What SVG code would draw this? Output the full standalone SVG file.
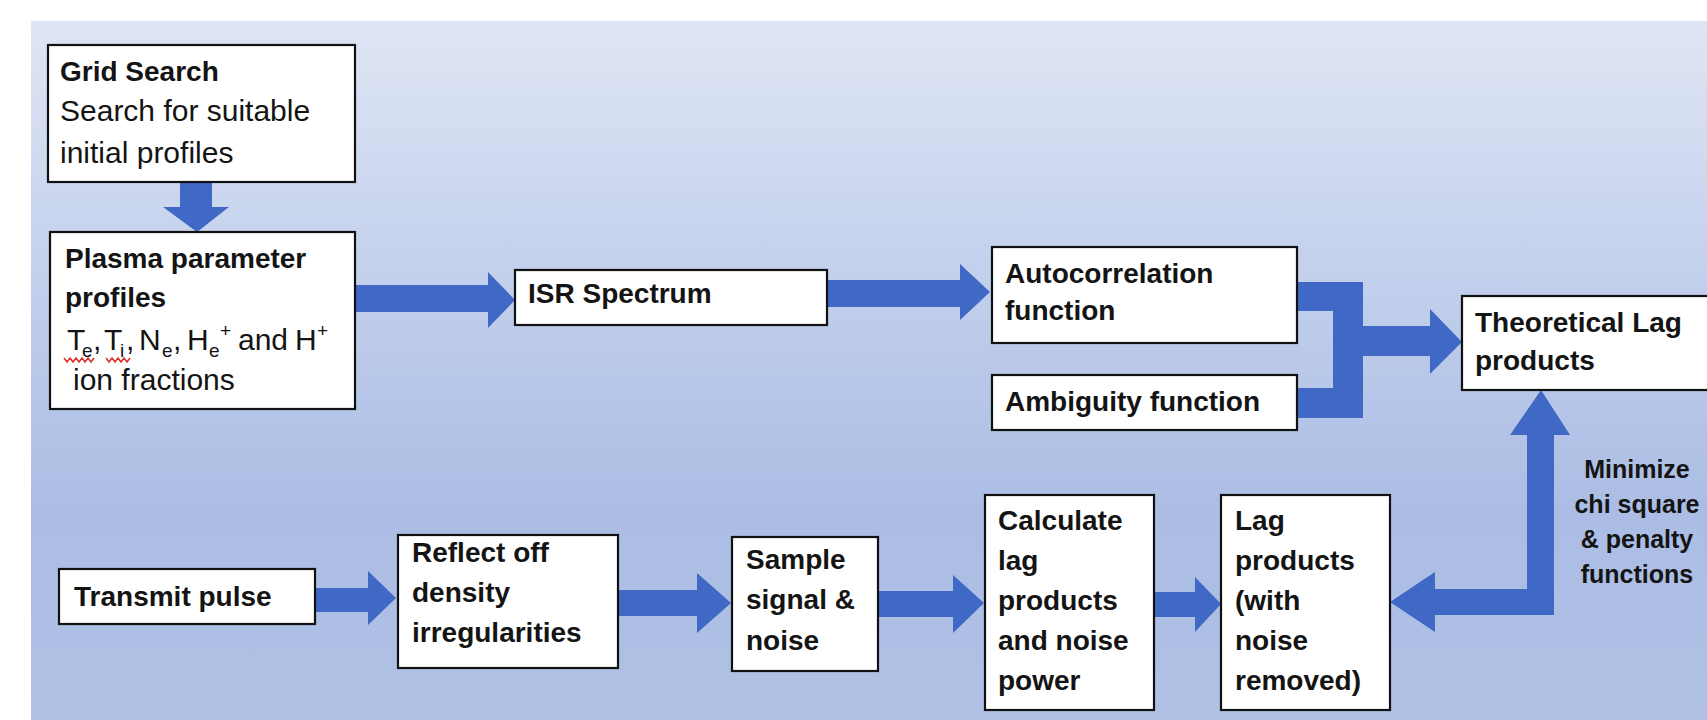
<svg xmlns="http://www.w3.org/2000/svg" width="1707" height="720" viewBox="0 0 1707 720">
<defs>
<linearGradient id="bg" x1="0" y1="0" x2="0" y2="1">
<stop offset="0" stop-color="#dfe5f4"/>
<stop offset="0.35" stop-color="#c4d1ed"/>
<stop offset="0.7" stop-color="#abbde4"/>
<stop offset="1" stop-color="#b0c1e5"/>
</linearGradient>
<style>
.box{fill:#ffffff;stroke:#111111;stroke-width:2.2}
.arr{fill:#4068c5;stroke:none}
text{font-family:"Liberation Sans",Arial,sans-serif;fill:#141414}
.b{font-weight:bold;font-size:28px}
.r{font-size:30px}
.s{font-size:19px}
.m{font-weight:bold;font-size:25px;text-anchor:middle}
.sq{fill:none;stroke:#e0302a;stroke-width:1.6}
</style>
</defs>
<rect x="0" y="0" width="1707" height="720" fill="#ffffff"/>
<rect x="31" y="21" width="1676" height="699" fill="url(#bg)"/>

<g id="connectors">
<polygon class="arr" points="180,182 212,182 212,207 229,207 197,232 163,207 180,207"/>
<polygon class="arr" points="355,285 488,285 488,272 515,300 488,328 488,312 355,312"/>
<polygon class="arr" points="827,280 960,280 960,264 990,292 960,320 960,307 827,307"/>
<polygon class="arr" points="1297,282 1363,282 1363,418 1297,418 1297,388 1333,388 1333,311 1297,311"/>
<polygon class="arr" points="1363,326 1430,326 1430,309 1462,342 1430,374 1430,356 1363,356"/>
<polygon class="arr" points="315,588 368,588 368,571 396,598 368,625 368,612 315,612"/>
<polygon class="arr" points="618,590 697,590 697,573 731,603 697,633 697,616 618,616"/>
<polygon class="arr" points="878,591 953,591 953,575 984,603 953,633 953,617 878,617"/>
<polygon class="arr" points="1154,592 1195,592 1195,577 1221,604 1195,632 1195,617 1154,617"/>
<polygon class="arr" points="1390,602 1435,572 1435,589 1527,589 1527,435 1510,435 1541,390 1570,435 1554,435 1554,615 1435,615 1435,632"/>
</g>

<g id="grid-search">
<rect class="box" x="48" y="45" width="307" height="137"/>
<text class="b" x="60" y="81">Grid Search</text>
<text class="r" x="60" y="121">Search for suitable</text>
<text class="r" x="60" y="163">initial profiles</text>
</g>

<g id="plasma-profiles">
<rect class="box" x="50" y="232" width="305" height="177"/>
<text class="b" x="65" y="268">Plasma parameter</text>
<text class="b" x="65" y="307">profiles</text>
<text class="r" y="350"><tspan x="67">T</tspan><tspan class="s" x="82" y="357">e</tspan><tspan x="93" y="350">,</tspan><tspan x="104">T</tspan><tspan class="s" x="120" y="357">i</tspan><tspan x="126" y="350">,</tspan><tspan x="139">N</tspan><tspan class="s" x="162" y="357">e</tspan><tspan x="173" y="350">,</tspan><tspan x="187">H</tspan><tspan class="s" x="209" y="357">e</tspan><tspan class="s" x="220" y="337">+</tspan><tspan x="238" y="350">and</tspan><tspan x="295">H</tspan><tspan class="s" x="317" y="337">+</tspan></text>
<text class="r" x="73" y="390">ion fractions</text>
<polyline class="sq" points="64,358 67,362 70,358 73,362 76,358 79,362 82,358 85,362 88,358 91,362 94,358"/>
<polyline class="sq" points="106,358 109,362 112,358 115,362 118,358 121,362 124,358 127,362 130,358"/>
</g>

<g id="isr-spectrum">
<rect class="box" x="515" y="270" width="312" height="55"/>
<text class="b" x="528" y="303">ISR Spectrum</text>
</g>

<g id="autocorrelation">
<rect class="box" x="992" y="247" width="305" height="96"/>
<text class="b" x="1005" y="283">Autocorrelation</text>
<text class="b" x="1005" y="320">function</text>
</g>

<g id="ambiguity">
<rect class="box" x="992" y="375" width="305" height="55"/>
<text class="b" x="1005" y="411">Ambiguity function</text>
</g>

<g id="theoretical-lag">
<rect class="box" x="1462" y="296" width="260" height="94"/>
<text class="b" x="1475" y="332">Theoretical Lag</text>
<text class="b" x="1475" y="370">products</text>
</g>

<g id="minimize-label">
<text class="m" x="1637" y="478">Minimize</text>
<text class="m" x="1637" y="513">chi square</text>
<text class="m" x="1637" y="548">&amp; penalty</text>
<text class="m" x="1637" y="583">functions</text>
</g>

<g id="transmit-pulse">
<rect class="box" x="59" y="569" width="256" height="55"/>
<text class="b" x="74" y="606">Transmit pulse</text>
</g>

<g id="reflect">
<rect class="box" x="398" y="535" width="220" height="133"/>
<text class="b" x="412" y="562">Reflect off</text>
<text class="b" x="412" y="602">density</text>
<text class="b" x="412" y="642">irregularities</text>
</g>

<g id="sample">
<rect class="box" x="732" y="537" width="146" height="134"/>
<text class="b" x="746" y="569">Sample</text>
<text class="b" x="746" y="609">signal &amp;</text>
<text class="b" x="746" y="650">noise</text>
</g>

<g id="calculate">
<rect class="box" x="985" y="495" width="169" height="215"/>
<text class="b" x="998" y="530">Calculate</text>
<text class="b" x="998" y="570">lag</text>
<text class="b" x="998" y="610">products</text>
<text class="b" x="998" y="650">and noise</text>
<text class="b" x="998" y="690">power</text>
</g>

<g id="lag-products">
<rect class="box" x="1221" y="495" width="169" height="215"/>
<text class="b" x="1235" y="530">Lag</text>
<text class="b" x="1235" y="570">products</text>
<text class="b" x="1235" y="610">(with</text>
<text class="b" x="1235" y="650">noise</text>
<text class="b" x="1235" y="690">removed)</text>
</g>
</svg>
